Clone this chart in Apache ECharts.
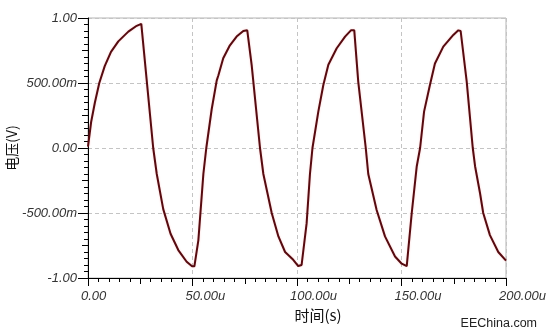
<!DOCTYPE html>
<html>
<head>
<meta charset="utf-8">
<script src="https://cdn.jsdelivr.net/npm/echarts@6/dist/echarts.min.js"></script>
<style>
  html, body { margin: 0; padding: 0; background: #fff; }
  #chart { width: 546px; height: 336px; }
</style>
</head>
<body>
<div id="chart"></div>
<script>
// time in microseconds, voltage in volts
var timeUs = [
  0, 1.5, 3.3, 5.4, 8, 11, 14.5, 19.3, 23.3, 25.5,
  31.2, 32.9, 36, 39.5, 43.2, 47.2, 49.8, 50.9,
  52.8, 55.2, 56.6, 59.2, 61.6, 62.4, 64.7, 67.9, 71.1, 74.3, 76.2,
  78.3, 82.3, 83.9, 87.9, 91.1, 94.3, 98.2, 100.6, 102.2,
  104.6, 106.2, 107.4, 110.2, 112.6, 115, 119, 123, 125.8, 127.4,
  129.3, 132.9, 134.1, 138.1, 142.1, 146.9, 150.1, 152.5,
  154.9, 157.3, 158.9, 160.8, 163.6, 166, 170, 174.8, 177.2, 178.3,
  181.2, 184.1, 185.2, 187.6, 189.1, 192.3, 196.3, 200
];
var volts = [
  0.01, 0.2, 0.35, 0.5, 0.63, 0.74, 0.82, 0.895, 0.94, 0.955,
  0.0, -0.2, -0.47, -0.66, -0.785, -0.875, -0.91, -0.91,
  -0.71, -0.2, 0.0, 0.3, 0.52, 0.56, 0.69, 0.79, 0.857, 0.9, 0.905,
  0.64, 0.0, -0.2, -0.5, -0.68, -0.8, -0.86, -0.908, -0.9,
  -0.58, -0.2, 0.0, 0.28, 0.485, 0.64, 0.767, 0.857, 0.905, 0.905,
  0.51, 0.0, -0.2, -0.477, -0.68, -0.835, -0.89, -0.908,
  -0.5, -0.14, 0.0, 0.28, 0.485, 0.65, 0.78, 0.87, 0.905, 0.9,
  0.51, 0.0, -0.14, -0.35, -0.5, -0.67, -0.8, -0.867
];
var xTicks = [0, 50, 100, 150, 200];
var yTicks = [-1, -0.5, 0, 0.5, 1];

var points = [];
for (var i = 0; i < timeUs.length; i++) {
  points.push([timeUs[i], volts[i]]);
}

function fmtX(v) {
  if (v === 0) return "0.00";
  return v.toFixed(2) + "u";
}
function fmtY(v) {
  if (v === 0) return "0.00";
  if (Math.abs(v) < 1) return (v * 1000).toFixed(2) + "m";
  return v.toFixed(2);
}

var labelFont = {
  fontFamily: "Liberation Sans",
  fontStyle: "italic",
  fontSize: 13,
  color: "#333"
};

var chart = echarts.init(document.getElementById("chart"));
chart.setOption({
  animation: false,
  backgroundColor: "#fff",
  grid: {
    left: 88,
    right: 40,
    top: 18,
    bottom: 58,
    outerBoundsMode: "none",
    containLabel: false,
    show: true,
    borderColor: "#b4b4b4",
    borderWidth: 1
  },
  xAxis: [
    {
      type: "value",
      min: xTicks[0],
      max: xTicks[xTicks.length - 1],
      interval: 50,
      name: "时间(s)",
      nameLocation: "middle",
      nameGap: 30,
      nameMoveOverlap: false,
      nameTextStyle: { fontFamily: "Noto Sans CJK SC", fontSize: 15, color: "#111", padding: [0, 0, 0, 42] },
      axisLine: { onZero: false, lineStyle: { color: "#000", width: 1 } },
      axisTick: { length: 8, lineStyle: { color: "#000" } },
      minorTick: { show: true, splitNumber: 10, length: 4, lineStyle: { color: "#000" } },
      axisLabel: Object.assign({ margin: 12, align: "left", padding: [0, 0, 0, -7], formatter: fmtX }, labelFont),
      splitLine: { show: true, lineStyle: { color: "#c4c4c4", type: [4, 3] } }
    },
    {
      type: "value",
      position: "bottom",
      min: 0,
      max: 200,
      interval: 25,
      axisLine: { show: false, onZero: false },
      axisTick: { length: 6, lineStyle: { color: "#000" } },
      axisLabel: { show: false },
      splitLine: { show: false }
    }
  ],
  yAxis: [
    {
      type: "value",
      min: yTicks[0],
      max: yTicks[yTicks.length - 1],
      interval: 0.5,
      name: "电压(V)",
      nameLocation: "middle",
      nameRotate: 90,
      nameGap: 69,
      nameMoveOverlap: false,
      nameTextStyle: { fontFamily: "Noto Sans CJK SC", fontSize: 14, color: "#111" },
      axisLine: { show: true, onZero: false, lineStyle: { color: "#000", width: 1 } },
      axisTick: { show: true, length: 10, lineStyle: { color: "#000" } },
      minorTick: { show: true, splitNumber: 10, length: 4, lineStyle: { color: "#000" } },
      axisLabel: Object.assign({ margin: 11, formatter: fmtY }, labelFont),
      splitLine: { show: true, lineStyle: { color: "#c4c4c4", type: [4, 3] } }
    },
    {
      type: "value",
      position: "left",
      min: -1,
      max: 1,
      interval: 0.25,
      axisLine: { show: false, onZero: false },
      axisTick: { show: true, length: 6, lineStyle: { color: "#000" } },
      axisLabel: { show: false },
      splitLine: { show: false }
    }
  ],
  graphic: [
    {
      type: "text",
      right: 9,
      top: 317,
      style: { text: "EEChina.com", font: "12.5px 'Liberation Sans'", fill: "#222" }
    }
  ],
  series: [
    {
      type: "line",
      data: points,
      symbol: "none",
      lineStyle: {
        color: "#560b10",
        width: 2,
        shadowColor: "rgba(255,90,90,0.3)",
        shadowBlur: 2
      }
    }
  ]
});
</script>
</body>
</html>
